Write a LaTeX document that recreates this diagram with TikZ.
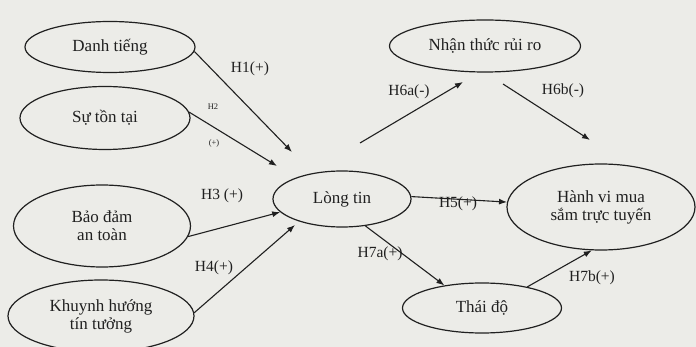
\documentclass[tikz,border=0pt]{standalone}
\usepackage{fontspec}
\setmainfont{Liberation Serif}
\usetikzlibrary{shapes.geometric,arrows.meta}
\definecolor{paper}{RGB}{236,236,232}
\definecolor{ink}{RGB}{32,32,32}
\begin{document}
\begin{tikzpicture}[x=1pt,y=-1pt,
  ell/.style={ellipse,draw=ink,line width=1.2pt,inner sep=0pt,text=ink,
    font=\fontsize{17}{18}\selectfont,align=center},
  arr/.style={draw=ink,line width=1.1pt,-{Latex[length=8pt,width=6pt]}},
  lab/.style={text=ink,font=\fontsize{15.5}{17}\selectfont,inner sep=0pt},
  tinylab/.style={text=ink,font=\fontsize{8.5}{9}\selectfont,inner sep=0pt}]
\fill[paper] (0,0) rectangle (696,347);
\useasboundingbox (0,0) rectangle (696,347);
% nodes
\node[ell,minimum width=170pt,minimum height=51pt] (danh) at (110,47) {Danh tiếng};
\node[ell,minimum width=170pt,minimum height=63pt] (suton) at (105,118) {Sự tồn tại};
\node[ell,minimum width=177pt,minimum height=82pt] (baodam) at (102,226) {Bảo đảm\\an toàn};
\node[ell,minimum width=186pt,minimum height=72pt] (khuynh) at (101,316) {Khuynh hướng\\tín tưởng};
\node[ell,minimum width=138pt,minimum height=56pt] (long) at (342,199) {Lòng tin};
\node[ell,minimum width=191pt,minimum height=52pt] (nhan) at (485,46) {Nhận thức rủi ro};
\node[ell,minimum width=188pt,minimum height=86pt] (hanh) at (601,207) {Hành vi mua\\sắm trực tuyến};
\node[ell,minimum width=159pt,minimum height=50pt] (thai) at (482,308) {Thái độ};
% free ends
\coordinate (h1e) at (292,152);
\coordinate (h2e) at (277,166);
\coordinate (h4e) at (295,225);
\coordinate (h6as) at (360,143);
\coordinate (h6ae) at (463,82);
\coordinate (h6bs) at (503,84);
\coordinate (h6be) at (590,140);
% connectors
\draw[arr] (danh.-3) -- (h1e);
\draw[arr] (suton.4) -- (h2e);
\draw[arr] (baodam.-7) -- (long.192);
\draw[arr] (khuynh.2) -- (h4e);
\draw[arr] (long.2) -- (hanh.177);
\draw[arr] (h6as) -- (h6ae);
\draw[arr] (h6bs) -- (h6be);
\draw[arr] (long.-49) -- (thai.149);
\draw[arr] (thai.25) -- (hanh.-102);
% labels
\node[lab] (l1) at (250,69) {H1(+)};
\node[tinylab] (l2a) at (213,107) {H2};
\node[tinylab] (l2b) at (214,143) {(+)};
\node[lab] (l3) at (222,196) {H3 (+)};
\node[lab] (l4) at (214,268) {H4(+)};
\node[lab] (l5) at (458,204) {H5(+)};
\node[lab] (l6a) at (409,92) {H6a(-)};
\node[lab] (l6b) at (563,91) {H6b(-)};
\node[lab] (l7a) at (380,254) {H7a(+)};
\node[lab] (l7b) at (592,278) {H7b(+)};
\end{tikzpicture}
\end{document}
